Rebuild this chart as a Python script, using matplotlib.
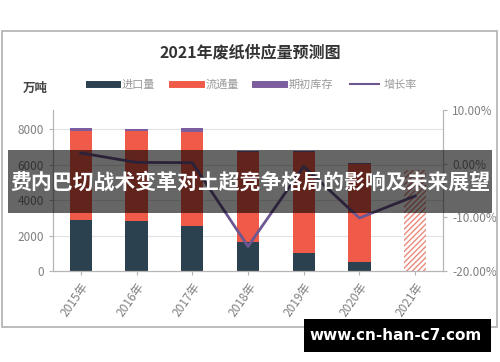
import matplotlib
matplotlib.use("Agg")
import matplotlib.pyplot as plt
from matplotlib.patches import Rectangle
from matplotlib.lines import Line2D
import numpy as np

plt.rcParams['font.family'] = ['Noto Sans CJK SC', 'DejaVu Sans']

# data
years = ['2015年', '2016年', '2017年', '2018年', '2019年', '2020年', '2021年']
import_vals = [2870, 2820, 2530, 1650, 1010, 510]
circ_vals = [5030, 5080, 5330, 5080, 5720, 5540]
stock_vals = [140, 90, 180, 50, 50, 50]
forecast_2021 = 5690
growth = [2.0, 0.25, 0.2, -15.4, -0.5, -10.1, -6.0]

c_imp = '#2c4150'
c_circ = '#f05a48'
c_stock = '#7c5e9e'
c_line = '#6c5790'
gray = '#808080'

fig = plt.figure(figsize=(5, 3.62), dpi=100)
fig.patch.set_facecolor('white')
ax = fig.add_axes([0.106, 0.251, 0.78, 0.445])
ax2 = ax.twinx()

x = np.arange(len(years))
xh = x[:6]
w = 0.4
ax.bar(xh, import_vals, w, color=c_imp, zorder=2)
ax.bar(xh, circ_vals, w, bottom=import_vals, color=c_circ, zorder=2)
bot2 = [a + b for a, b in zip(import_vals, circ_vals)]
ax.bar(xh, stock_vals, w, bottom=bot2, color=c_stock, zorder=2)
ax.bar(x[6], forecast_2021, w, facecolor='white', edgecolor='#e98a7c',
       hatch='//////', linewidth=0, zorder=2)

ax2.plot(x, growth, color=c_line, lw=2, zorder=3)

ax.set_xlim(-0.5, 6.5)
ax.set_ylim(0, 9070)
ax.set_yticks([0, 2000, 4000, 6000, 8000])
ax2.set_ylim(-20, 10)
ax2.set_yticks([-20, -10, 0, 10])
ax2.set_yticklabels(['-20.00%', '-10.00%', '0.00%', '10.00%'])
ax.set_xticks(x)
ax.set_xticklabels(years, rotation=55, ha='right', va='top',
                   rotation_mode='anchor')
ax.grid(axis='y', color='#e2e2e2', lw=0.8, zorder=0)
ax.set_axisbelow(True)

for a in (ax, ax2):
    a.spines['top'].set_visible(False)
    for s in ('left', 'right', 'bottom'):
        a.spines[s].set_color('#b5b5b5')
    a.tick_params(colors='#b5b5b5', labelcolor=gray, labelsize=8.5,
                  length=3, width=0.8)

# title and legend
fig.text(0.5, 0.856, '2021年废纸供应量预测图', ha='center', va='center',
         fontsize=11.5, fontweight='bold', color='#333333')
fig.text(0.07, 0.757, '万吨', ha='center', va='center', fontsize=9,
         color='#444444', fontweight='bold')
handles = [Line2D([], [], color=c_imp, lw=5),
           Line2D([], [], color=c_circ, lw=5),
           Line2D([], [], color=c_stock, lw=5),
           Line2D([], [], color=c_line, lw=1.5)]
fig.legend(handles, ['进口量', '流通量', '期初库存', '增长率'], ncol=4,
           loc='center', bbox_to_anchor=(0.505, 0.765), frameon=False,
           fontsize=8, labelcolor='#999999', handlelength=2.6, handletextpad=0.4,
           columnspacing=1.5)

# outer frame
fig.patches.append(Rectangle((0.004, 0.097), 0.99, 0.817, transform=fig.transFigure,
                             fill=False, edgecolor='#b0b0b0', lw=1.2))

# overlay banner
fig.patches.append(Rectangle((0.016, 0.412), 0.968, 0.174, transform=fig.transFigure,
                             facecolor='black', alpha=0.6, zorder=10))
fig.text(0.5, 0.496, '费内巴切战术变革对土超竞争格局的影响及未来展望', ha='center',
         va='center', fontsize=15, fontweight='bold', color='white', zorder=11)

# watermark
fig.patches.append(Rectangle((0.608, 0.028), 0.374, 0.091, transform=fig.transFigure,
                             facecolor='black', zorder=10))
fig.text(0.792, 0.074, 'www.cn-han-c7.com', ha='center', va='center',
         fontsize=11, fontweight='bold', color='white', family='DejaVu Sans',
         zorder=11)

fig.savefig('out.png', dpi=100)
